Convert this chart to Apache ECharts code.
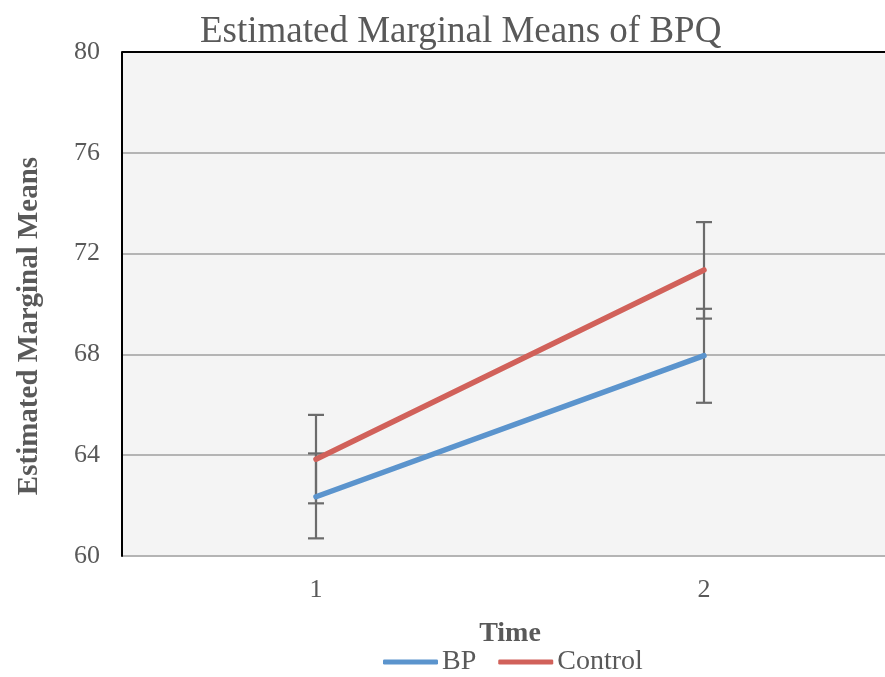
<!DOCTYPE html>
<html><head><meta charset="utf-8">
<script src="https://cdn.jsdelivr.net/npm/echarts@6/dist/echarts.min.js"></script>
<style>html,body{margin:0;padding:0;background:#fff}#c{width:885px;height:677px}</style>
</head><body><div id="c"></div>
<script>
const categories = ['1', '2'];
const bpMean = [62.35, 67.95];
const bpLow = [60.70, 66.08];
const bpHigh = [64.07, 69.81];
const ctrlMean = [63.84, 71.35];
const ctrlLow = [62.09, 69.42];
const ctrlHigh = [65.60, 73.25];
const yTicks = [60, 64, 68, 72, 76, 80];

const FONT = '"Liberation Serif", "Times New Roman", serif';
const chart = echarts.init(document.getElementById('c'));

function errSeries(name, low, high) {
  return {
    type: 'custom', name: name + ' err', silent: true, z: 1,
    data: low.map((l, i) => [i, l, high[i]]),
    renderItem: function (params, api) {
      const x = api.coord([api.value(0), api.value(1)])[0];
      const yl = api.coord([api.value(0), api.value(1)])[1];
      const yh = api.coord([api.value(0), api.value(2)])[1];
      const w = 8;
      const st = { stroke: '#6b6b6b', lineWidth: 2.2 };
      return { type: 'group', children: [
        { type: 'line', shape: { x1: x, y1: yl, x2: x, y2: yh }, style: st },
        { type: 'line', shape: { x1: x - w, y1: yl, x2: x + w, y2: yl }, style: st },
        { type: 'line', shape: { x1: x - w, y1: yh, x2: x + w, y2: yh }, style: st }
      ]};
    }
  };
}

chart.setOption({
  animation: false,
  backgroundColor: '#ffffff',
  title: {
    text: 'Estimated Marginal Means of BPQ', left: 200, top: 14, padding: 0,
    textStyle: { fontFamily: FONT, fontSize: 37, fontWeight: 'normal', color: '#595959' }
  },
  legend: {
    left: 383, top: 648, padding: 0, itemWidth: 55, itemHeight: 5, itemGap: 22,
    icon: 'roundRect',
    data: ['BP', 'Control'],
    textStyle: { fontFamily: FONT, fontSize: 28, color: '#595959', padding: [0, 0, 0, -1] }
  },
  graphic: [{
    type: 'text', x: 30, y: 326, rotation: Math.PI / 2,
    style: { text: 'Estimated Marginal Means', fontFamily: FONT, fontSize: 29, fontWeight: 'bold',
      fill: '#595959', align: 'center', verticalAlign: 'middle' }
  }],
  grid: { left: 122, top: 52, width: 776, bottom: 121, outerBoundsMode: 'none', containLabel: false,
    show: true, backgroundColor: '#f4f4f4', borderWidth: 0 },
  xAxis: {
    type: 'category', data: categories, boundaryGap: true,
    name: 'Time', nameLocation: 'middle', nameGap: 64,
    nameTextStyle: { fontFamily: FONT, fontSize: 28, fontWeight: 'bold', color: '#595959' },
    axisLine: { show: false }, axisTick: { show: false },
    axisLabel: { fontFamily: FONT, fontSize: 26, color: '#595959', margin: 21 }
  },
  yAxis: {
    type: 'value', min: yTicks[0], max: yTicks[yTicks.length - 1], interval: 4,
    axisLine: { show: true, lineStyle: { color: '#000', width: 2 } },
    axisTick: { show: false },
    axisLabel: { fontFamily: FONT, fontSize: 26, color: '#595959', margin: 22 },
    splitLine: { show: true, lineStyle: { color: '#b4b4b4', width: 2 } }
  },
  series: [
    errSeries('BP', bpLow, bpHigh),
    errSeries('Control', ctrlLow, ctrlHigh),
    { name: 'BP', type: 'line', data: bpMean, symbol: 'none', z: 3,
      lineStyle: { color: '#5b94cd', width: 5.5, cap: 'round' }, itemStyle: { color: '#5b94cd' } },
    { name: 'Control', type: 'line', data: ctrlMean, symbol: 'none', z: 3,
      lineStyle: { color: '#d1615a', width: 5.5, cap: 'round' }, itemStyle: { color: '#d1615a' } },
    { type: 'line', data: [], markLine: { silent: true, symbol: 'none', label: { show: false },
      lineStyle: { color: '#000', width: 2, type: 'solid' }, data: [{ yAxis: 80 }] } }
  ]
});
</script></body></html>
